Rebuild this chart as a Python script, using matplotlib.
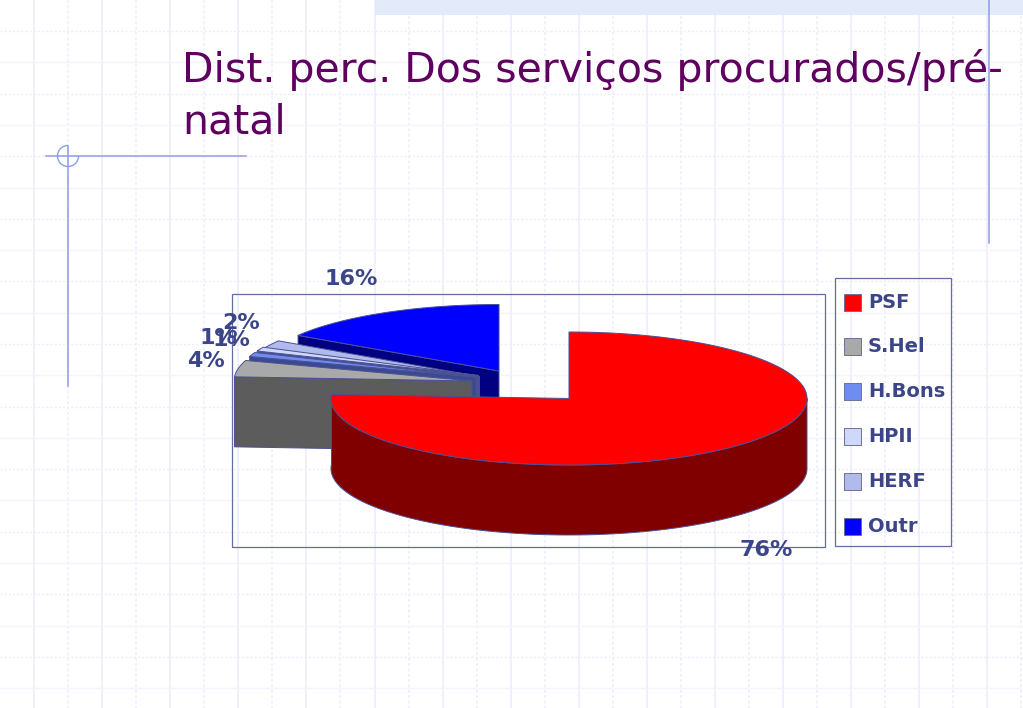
import numpy as np
import matplotlib
matplotlib.use("Agg")
import matplotlib.pyplot as plt
from matplotlib.patches import Polygon, Rectangle, Arc

# ---- data ----
title_lines = ["Dist. perc. Dos serviços procurados/pré-", "natal"]
categories = ["PSF", "S.Hel", "H.Bons", "HPII", "HERF", "Outr"]
values = [76, 4, 1, 1, 2, 16]
labels = ["76%", "4%", "1%", "1%", "2%", "16%"]

# ---- styling / layout ----
top_colors = ["#ff0000", "#a9a9a9", "#6f8cf2", "#cdd8fa", "#b0bbec", "#0000ff"]
side_colors = ["#800000", "#5c5c5c", "#3b4a8e", "#46528f", "#3f4a88", "#000080"]
centers = [(569, 398.5), (472, 381), (476, 377), (478.5, 375.5), (479.5, 376.5), (499, 371)]
label_pos = [(766, 550), (206, 361), (218, 338), (231, 340), (241, 323), (351, 279)]
RX, RY, DEPTH = 238, 66.5, 70
EDGE = "#4b5096"
TEXT = "#3c4587"
GRID = "#eceefc"
DECOR = "#8f9de6"
FONT = "DejaVu Sans"

fig = plt.figure(figsize=(10.23, 7.08), dpi=100, facecolor="white")
ax = fig.add_axes([0, 0, 1, 1])
ax.set_xlim(0, 1023)
ax.set_ylim(708, 0)
ax.axis("off")

# background grid
for i, x in enumerate(np.arange(34, 1023, 34.05)):
    if i % 2 == 0:
        ax.plot([x, x], [0, 708], color=GRID, lw=1.2, zorder=0)
    else:
        ax.plot([x, x], [0, 708], color=GRID, lw=1.1, ls=(0, (2, 1.5)), zorder=0)
for i, y in enumerate(np.arange(31, 708, 31.3)):
    if i % 2 == 1:
        ax.plot([0, 1023], [y, y], color="#f3f4fd", lw=1.0, zorder=0)
    else:
        ax.plot([0, 1023], [y, y], color=GRID, lw=1.0, ls=(0, (1.5, 1.5)), zorder=0)

# slide decoration
ax.add_patch(Rectangle((375, 0), 648, 14.5, fc="#e3eafa", ec="none", zorder=1))
ax.plot([989, 989], [0, 243], color=DECOR, lw=1.1, zorder=1)
ax.plot([46, 246], [156, 156], color=DECOR, lw=1.1, zorder=1)
ax.plot([68, 68], [146, 386], color=DECOR, lw=1.1, zorder=1)
ax.add_patch(Arc((68, 156), 21, 21, theta1=0, theta2=270, color=DECOR, lw=1.0, zorder=1))

# title
for txt, y in zip(title_lines, [70, 122]):
    ax.text(182, y, txt, color="#5f0060", fontsize=29.5, family=FONT, va="center", ha="left", zorder=6)

# plot frame
ax.add_patch(Rectangle((232, 294), 593, 253, fc="none", ec="#656ca0", lw=0.9, zorder=2))


def rim(cx, cy, a0, a1):
    t = np.radians(np.linspace(a0, a1, max(int(abs(a1 - a0) * 2), 2)))
    return np.column_stack([cx + RX * np.sin(t), cy - RY * np.cos(t)])


# slice angles, clockwise from twelve o'clock
edges = np.concatenate([[0], np.cumsum(values)]) / sum(values) * 360
order = [5, 4, 3, 2, 1, 0]  # painter's order, back to front
z = 3
for i in order:
    a0, a1 = edges[i], edges[i + 1]
    cx, cy = centers[i]
    kw = dict(ec=EDGE, lw=0.7, joinstyle="round")
    # visible radial wall on the leading edge of back slices
    if a0 > 180:
        p = rim(cx, cy, a0, a0)[0]
        ax.add_patch(Polygon([p, (cx, cy), (cx, cy + DEPTH), (p[0], p[1] + DEPTH)],
                             fc=side_colors[i], zorder=z, **kw))
    # outer wall on the front part of the rim
    lo, hi = max(a0, 90), a1
    if hi > lo and a0 < 270:
        arc = rim(cx, cy, lo, hi)
        down = arc[::-1] + np.array([0, DEPTH])
        ax.add_patch(Polygon(np.vstack([arc, down]), fc=side_colors[i], zorder=z, **kw))
    # top face
    ax.add_patch(Polygon(np.vstack([[(cx, cy)], rim(cx, cy, a0, a1)]),
                         fc=top_colors[i], zorder=z + 0.5, **kw))
    z += 1

# percentage labels
for lab, (x, y) in zip(labels, label_pos):
    ax.text(x, y, lab, color=TEXT, fontsize=16, fontweight="bold", family=FONT,
            ha="center", va="center", zorder=12)

# legend
ax.add_patch(Rectangle((835, 278), 116, 268, fc="none", ec="#656ca0", lw=0.9, zorder=2))
for name, c, y in zip(categories, top_colors, np.linspace(302, 526, len(categories))):
    ax.add_patch(Rectangle((844, y - 8.5), 17, 17, fc=c, ec="#6d7099", lw=0.7, zorder=5))
    ax.text(868, y, name, color=TEXT, fontsize=14, fontweight="bold", family=FONT,
            ha="left", va="center", zorder=6)

fig.savefig("out.png", dpi=100, facecolor="white")
